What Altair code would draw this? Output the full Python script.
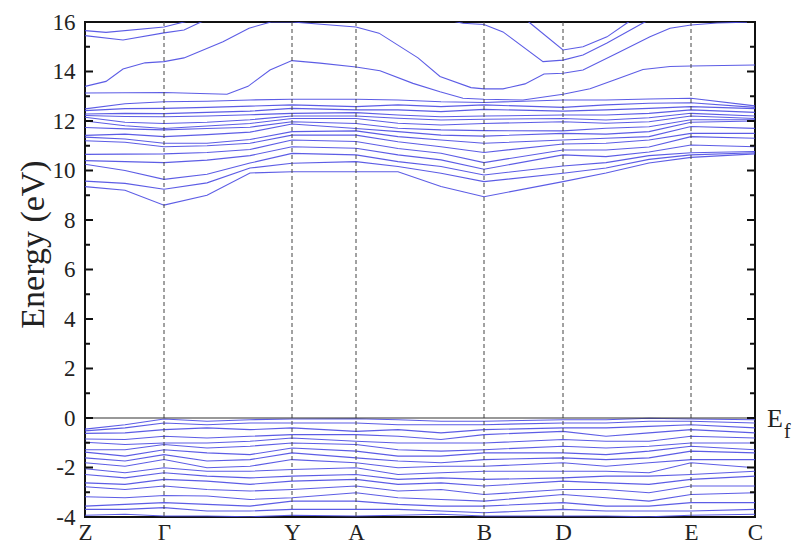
import altair as alt
import pandas as pd

# ---------------- data ----------------
# k-path sampling nodes (path-length units) and high-symmetry points
K_NODES = [0, 40, 79, 122, 165, 207, 271, 313, 356, 399, 478, 521, 564, 606, 670]
SYM_K = [0, 79, 207, 271, 399, 478, 606, 670]
SYM_LABELS = ["Z", "Γ", "Y", "A", "B", "D", "E", "C"]

# conduction-band bundle: energies (eV) at each k node, sorted by band index
cb_Z    = [9.35, 9.57, 10.25, 10.4, 10.65, 11.2, 11.35, 11.42, 11.74, 12.0, 12.15, 12.22, 12.28, 12.42, 12.49]
cb_k40  = [9.2, 9.48, 10.0, 10.36, 10.66, 11.14, 11.27, 11.47, 11.68, 11.81, 11.95, 12.18, 12.31, 12.5, 12.7]
cb_G    = [8.6, 9.24, 9.64, 10.32, 10.67, 10.96, 11.1, 11.37, 11.64, 11.7, 11.9, 12.17, 12.3, 12.51, 12.78]
cb_k122 = [9.0, 9.5, 9.85, 10.42, 10.73, 11.0, 11.1, 11.45, 11.7, 11.8, 11.95, 12.2, 12.35, 12.55, 12.8]
cb_k165 = [9.9, 10.1, 10.3, 10.6, 10.85, 11.1, 11.25, 11.55, 11.75, 11.9, 12.05, 12.25, 12.4, 12.6, 12.85]
cb_Y    = [9.95, 10.29, 10.69, 10.96, 11.23, 11.43, 11.57, 11.88, 11.97, 12.1, 12.2, 12.31, 12.51, 12.65, 12.88]
cb_A    = [9.95, 10.36, 10.63, 10.9, 11.17, 11.43, 11.6, 11.7, 11.9, 12.1, 12.2, 12.34, 12.45, 12.58, 12.88]
cb_k313 = [9.95, 10.16, 10.36, 10.63, 10.89, 11.16, 11.37, 11.57, 11.71, 11.91, 12.11, 12.24, 12.45, 12.65, 12.85]
cb_k356 = [9.35, 9.89, 10.16, 10.43, 10.7, 10.96, 11.23, 11.43, 11.64, 11.84, 12.04, 12.17, 12.38, 12.58, 12.78]
cb_B    = [8.94, 9.55, 9.82, 10.05, 10.32, 10.73, 11.1, 11.39, 11.61, 11.9, 12.07, 12.2, 12.47, 12.65, 12.75]
cb_D    = [9.55, 9.89, 10.18, 10.63, 10.83, 11.07, 11.23, 11.5, 11.6, 11.97, 12.1, 12.24, 12.4, 12.55, 12.85]
cb_k521 = [9.9, 10.1, 10.32, 10.56, 10.83, 11.1, 11.3, 11.47, 11.71, 11.91, 12.04, 12.24, 12.45, 12.65, 12.85]
cb_k564 = [10.3, 10.45, 10.6, 10.75, 10.95, 11.23, 11.37, 11.57, 11.77, 11.97, 12.13, 12.31, 12.51, 12.72, 12.89]
cb_E    = [10.53, 10.63, 10.72, 11.03, 11.37, 11.5, 11.78, 11.95, 12.05, 12.2, 12.31, 12.45, 12.58, 12.74, 12.92]
cb_C    = [10.67, 10.72, 10.77, 10.96, 11.3, 11.5, 11.7, 12.0, 12.05, 12.1, 12.2, 12.35, 12.5, 12.55, 12.61]

# valence bands: energies (eV) at each k node, sorted from top to bottom
vb_Z    = [-0.45, -0.52, -0.62, -0.85, -0.98, -1.28, -1.38, -1.61, -1.81, -2.05, -2.28, -2.62, -2.78, -3.18, -3.56, -3.69, -3.93]
vb_k40  = [-0.27, -0.40, -0.60, -0.87, -1.07, -1.28, -1.54, -1.74, -1.95, -2.21, -2.42, -2.68, -2.89, -3.22, -3.49, -3.69, -3.89]
vb_G    = [-0.04, -0.20, -0.47, -0.74, -1.01, -1.07, -1.28, -1.48, -1.68, -2.01, -2.21, -2.48, -2.75, -3.13, -3.42, -3.62, -3.96]
vb_k122 = [-0.13, -0.27, -0.40, -0.81, -1.01, -1.21, -1.41, -1.74, -2.01, -2.15, -2.35, -2.55, -2.89, -3.15, -3.49, -3.76, -3.96]
vb_k165 = [-0.07, -0.20, -0.47, -0.74, -0.94, -1.14, -1.48, -1.68, -1.95, -2.15, -2.42, -2.68, -2.95, -3.29, -3.56, -3.76, -3.99]
vb_Y    = [-0.04, -0.20, -0.40, -0.67, -0.81, -1.01, -1.21, -1.41, -1.68, -2.08, -2.35, -2.55, -2.89, -3.22, -3.36, -3.69, -3.93]
vb_A    = [-0.03, -0.20, -0.54, -0.67, -0.94, -1.07, -1.34, -1.61, -1.81, -2.01, -2.28, -2.48, -2.75, -3.02, -3.36, -3.69, -3.96]
vb_k313 = [-0.07, -0.27, -0.47, -0.74, -1.01, -1.28, -1.54, -1.74, -2.01, -2.28, -2.48, -2.68, -2.95, -3.22, -3.49, -3.69, -3.93]
vb_k356 = [-0.13, -0.27, -0.60, -0.87, -1.01, -1.34, -1.54, -1.81, -1.95, -2.21, -2.42, -2.62, -2.89, -3.29, -3.56, -3.76, -3.89]
vb_B    = [-0.13, -0.27, -0.47, -0.67, -1.01, -1.28, -1.41, -1.68, -1.95, -2.15, -2.48, -2.75, -3.09, -3.36, -3.56, -3.83, -3.96]
vb_D    = [-0.07, -0.20, -0.40, -0.54, -0.87, -1.14, -1.41, -1.61, -1.81, -2.15, -2.42, -2.55, -2.89, -3.09, -3.42, -3.69, -3.96]
vb_k521 = [-0.07, -0.20, -0.40, -0.74, -0.94, -1.21, -1.48, -1.68, -1.95, -2.15, -2.35, -2.62, -2.89, -3.22, -3.56, -3.76, -3.96]
vb_k564 = [-0.01, -0.13, -0.34, -0.60, -0.94, -1.14, -1.34, -1.61, -1.81, -2.21, -2.35, -2.68, -3.02, -3.36, -3.56, -3.76, -3.99]
vb_E    = [-0.04, -0.13, -0.27, -0.47, -0.74, -1.01, -1.14, -1.34, -1.68, -1.81, -2.28, -2.48, -2.75, -3.09, -3.42, -3.76, -3.93]
vb_C    = [-0.07, -0.20, -0.40, -0.60, -0.81, -1.01, -1.28, -1.41, -1.68, -2.01, -2.15, -2.35, -2.75, -3.02, -3.42, -3.69, -3.89]

# upper conduction bands, each with its own k samples (values above 16 leave the frame)
uf_k = [0, 79, 142, 163, 185, 207, 235, 271, 295, 328, 355, 378, 399, 438, 478, 505, 532, 558, 585, 606, 670]
uf_E = [13.13, 13.15, 13.08, 13.4, 14.06, 14.44, 14.34, 14.18, 14.03, 13.52, 13.18, 12.92, 12.88, 12.85, 13.08, 13.3, 13.7, 14.08, 14.2, 14.22, 14.26]
uc_k = [0, 21, 38, 60, 79, 99, 138, 164, 186, 207, 271, 294, 333, 355, 386, 399, 418, 440, 459, 478, 498, 532, 565, 585, 606, 632, 670]
uc_E = [13.4, 13.6, 14.1, 14.35, 14.4, 14.55, 15.2, 15.75, 16.0, 16.0, 15.8, 15.55, 14.55, 13.8, 13.35, 13.3, 13.3, 13.5, 13.9, 13.93, 14.06, 14.74, 15.4, 15.75, 15.88, 15.96, 16.0]
ua_k = [0, 21, 79, 99, 120]
ua_E = [15.65, 15.58, 15.8, 16.0, 16.2]
ub_k = [0, 38, 79, 99, 116, 130]
ub_E = [15.45, 15.27, 15.56, 15.68, 16.0, 16.2]
ud_k = [360, 378, 399, 418, 458, 478, 498, 522, 558, 570]
ud_E = [16.1, 15.95, 15.9, 15.6, 14.4, 14.46, 14.67, 15.15, 15.96, 16.2]
ue_k = [435, 445, 478, 498, 522, 542, 555]
ue_E = [16.3, 15.96, 14.87, 15.0, 15.4, 15.96, 16.3]

CB_COLUMNS = [cb_Z, cb_k40, cb_G, cb_k122, cb_k165, cb_Y, cb_A, cb_k313, cb_k356, cb_B, cb_D, cb_k521, cb_k564, cb_E, cb_C]
VB_COLUMNS = [vb_Z, vb_k40, vb_G, vb_k122, vb_k165, vb_Y, vb_A, vb_k313, vb_k356, vb_B, vb_D, vb_k521, vb_k564, vb_E, vb_C]
UPPER = {"uf": (uf_k, uf_E), "uc": (uc_k, uc_E), "ua": (ua_k, ua_E),
         "ub": (ub_k, ub_E), "ud": (ud_k, ud_E), "ue": (ue_k, ue_E)}

rows = []
for prefix, cols in (("c", CB_COLUMNS), ("v", VB_COLUMNS)):
    for b in range(len(cols[0])):
        for k, col in zip(K_NODES, cols):
            rows.append({"band": f"{prefix}{b}", "k": k, "E": col[b]})
for name, (ks, es) in UPPER.items():
    for k, e in zip(ks, es):
        rows.append({"band": name, "k": k, "E": e})
bands = pd.DataFrame(rows)

MAJOR = list(range(-4, 17, 2))
MINOR = list(range(-3, 16, 2))

# ---------------- chart ----------------
W, H = 670, 495
SERIF = "Liberation Serif"
LINE_COLOR = "#4a4ae2"

label_expr = " : ".join(
    f"datum.value == {k} ? '{lab}'" for k, lab in zip(SYM_K, SYM_LABELS)
) + " : ''"

x_scale = alt.Scale(domain=[0, 670], nice=False, zero=False)
y_scale = alt.Scale(domain=[-4, 16], nice=False, zero=False)

x_enc = alt.X(
    "k:Q", scale=x_scale,
    axis=alt.Axis(values=SYM_K, labelExpr=label_expr, title=None, labelPadding=4),
)
y_enc = alt.Y(
    "E:Q", scale=y_scale,
    axis=alt.Axis(values=MAJOR, labelExpr="'' + datum.value", title="Energy (eV)",
                  labelPadding=10, titlePadding=2, titleY=222),
)

band_lines = alt.Chart(bands).mark_line(
    color=LINE_COLOR, strokeWidth=1.1, clip=True, opacity=0.9
).encode(x=x_enc, y=y_enc, detail="band:N", order="k:Q")

sym_df = pd.DataFrame({"k": SYM_K[1:-1]})
vlines = alt.Chart(sym_df).mark_rule(
    color="#444", strokeWidth=1, strokeDash=[4, 3]
).encode(x=alt.X("k:Q", scale=x_scale))

fermi = alt.Chart(pd.DataFrame({"E": [0]})).mark_rule(
    color="#333", strokeWidth=1.2
).encode(y=alt.Y("E:Q", scale=y_scale))

major_df = pd.DataFrame({"E": MAJOR})
minor_df = pd.DataFrame({"E": MINOR})
ticks = []
for df, ln in ((major_df, 8), (minor_df, 5)):
    ticks.append(alt.Chart(df).mark_rule(color="#111", strokeWidth=2).encode(
        y=alt.Y("E:Q", scale=y_scale), x=alt.value(0), x2=alt.value(ln)))
    ticks.append(alt.Chart(df).mark_rule(color="#111", strokeWidth=2).encode(
        y=alt.Y("E:Q", scale=y_scale), x=alt.value(W - ln), x2=alt.value(W)))

ef_df = pd.DataFrame({"E": [0]})
ef_main = alt.Chart(ef_df).mark_text(
    text="E", font=SERIF, fontSize=26, color="#222", align="left", baseline="middle", dy=1
).encode(y=alt.Y("E:Q", scale=y_scale), x=alt.value(W + 12))
ef_sub = alt.Chart(ef_df).mark_text(
    text="f", font=SERIF, fontSize=20, color="#222", align="left", baseline="middle", dy=14
).encode(y=alt.Y("E:Q", scale=y_scale), x=alt.value(W + 29))

chart = alt.layer(band_lines, vlines, fermi, *ticks, ef_main, ef_sub).properties(
    width=W, height=H,
    autosize=alt.AutoSizeParams(type="none"),
    padding={"left": 85, "top": 22, "right": 42, "bottom": 28},
    background="white",
).configure_view(
    stroke="#111", strokeWidth=2
).configure_axis(
    grid=False, ticks=False, domain=False,
    labelFont=SERIF, labelFontSize=23, labelColor="#222", labelFlush=False,
    titleFont=SERIF, titleFontSize=34, titleFontWeight="normal", titleColor="#222",
)

chart.save("out.html", embed_options={"renderer": "svg", "actions": False})
